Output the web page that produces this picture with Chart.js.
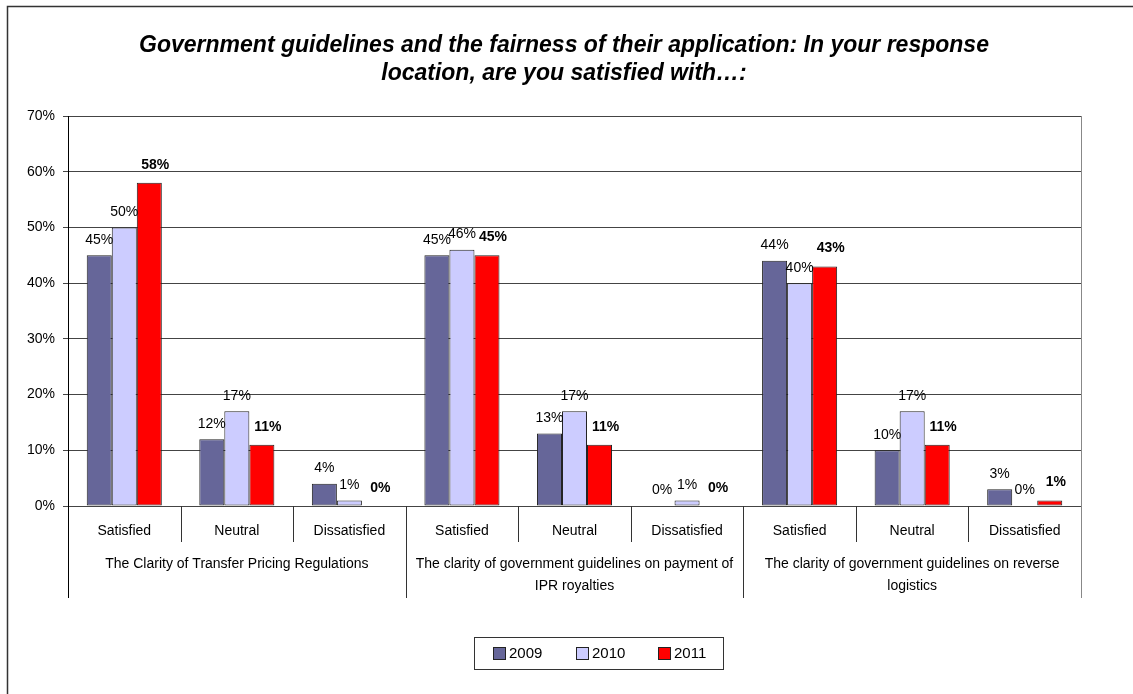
<!DOCTYPE html>
<html>
<head>
<meta charset="utf-8">
<script src="https://cdn.jsdelivr.net/npm/chart.js@4/dist/chart.umd.min.js"></script>
<style>
  body { margin: 0; background: #fff; }
  canvas { display: block; }
</style>
</head>
<body>
<canvas id="chart" width="1133" height="694"></canvas>
<script>
const titleLines = [
  'Government guidelines and the fairness of their application: In your response',
  'location, are you satisfied with\u2026:'
];
const categories = ['Satisfied', 'Neutral', 'Dissatisfied', 'Satisfied', 'Neutral', 'Dissatisfied', 'Satisfied', 'Neutral', 'Dissatisfied'];
const groupLabels = [
  ['The Clarity of Transfer Pricing Regulations'],
  ['The clarity of government guidelines on payment of', 'IPR royalties'],
  ['The clarity of government guidelines on reverse', 'logistics']
];
const seriesNames = ['2009', '2010', '2011'];
const values2009 = [45, 12, 4, 45, 13, 0, 44, 10, 3];
const values2010 = [50, 17, 1, 46, 17, 1, 40, 17, 0];
const values2011 = [58, 11, 0, 45, 11, 0, 43, 11, 1];
const yTicks = [0, 10, 20, 30, 40, 50, 60, 70];

const FONT = '"Liberation Sans", Arial, sans-serif';
const colors = ['#666699', '#CCCCFF', '#FF0000'];

// Frame, title, data labels, two-level category axis and boxed legend
const decorPlugin = {
  id: 'decor',
  afterDraw(chart) {
    const ctx = chart.ctx;
    const area = chart.chartArea;
    const x = chart.scales.x;
    ctx.save();

    // outer frame
    ctx.strokeStyle = '#333';
    ctx.lineWidth = 1.5;
    ctx.beginPath();
    ctx.moveTo(7.5, 694);
    ctx.lineTo(7.5, 6.5);
    ctx.lineTo(1133, 6.5);
    ctx.stroke();

    // title
    ctx.fillStyle = '#000';
    ctx.font = 'italic bold 23px ' + FONT;
    ctx.textAlign = 'center';
    ctx.textBaseline = 'alphabetic';
    titleLines.forEach((line, i) => ctx.fillText(line, 564, 52 + i * 28));

    // plot border (right side) and axis extension
    const axisBottom = 598;
    ctx.lineWidth = 1;
    ctx.strokeStyle = '#888';
    ctx.beginPath();
    ctx.moveTo(Math.round(area.right) + 0.5, area.top);
    ctx.lineTo(Math.round(area.right) + 0.5, axisBottom);
    ctx.stroke();
    ctx.strokeStyle = '#000';
    ctx.beginPath();
    ctx.moveTo(Math.round(area.left) + 0.5, area.top);
    ctx.lineTo(Math.round(area.left) + 0.5, axisBottom);
    ctx.stroke();

    // category separators
    ctx.strokeStyle = '#333';
    for (let i = 1; i < categories.length; i++) {
      const bx = Math.round((x.getPixelForValue(i - 1) + x.getPixelForValue(i)) / 2) + 0.5;
      const bottom = i % 3 === 0 ? axisBottom : 542;
      ctx.beginPath();
      ctx.moveTo(bx, area.bottom);
      ctx.lineTo(bx, bottom);
      ctx.stroke();
    }

    // group labels
    ctx.font = '14px ' + FONT;
    ctx.textBaseline = 'middle';
    ctx.fillStyle = '#000';
    groupLabels.forEach((lines, g) => {
      const cx = x.getPixelForValue(g * 3 + 1);
      lines.forEach((line, j) => ctx.fillText(line, cx, 564 + j * 22));
    });

    // data labels
    chart.data.datasets.forEach((ds, d) => {
      const meta = chart.getDatasetMeta(d);
      const bold = d === 2;
      ctx.font = (bold ? 'bold ' : '') + '14px ' + FONT;
      meta.data.forEach((bar, i) => {
        const dx = bold ? 6 : 0;
        const dy = bold ? 18 : 15.5;
        ctx.fillText(ds.data[i] + '%', bar.x + dx, bar.y - dy);
      });
    });

    // legend
    const lx = 474, ly = 637, lw = 249, lh = 32;
    ctx.strokeStyle = '#333';
    ctx.strokeRect(lx + 0.5, ly + 0.5, lw, lh);
    const itemX = [493, 576, 658];
    ctx.font = '15px ' + FONT;
    ctx.textAlign = 'left';
    chart.data.datasets.forEach((ds, d) => {
      ctx.fillStyle = ds.backgroundColor;
      ctx.fillRect(itemX[d] + 0.5, 647.5, 12, 12);
      ctx.strokeStyle = '#222';
      ctx.strokeRect(itemX[d] + 0.5, 647.5, 12, 12);
      ctx.fillStyle = '#000';
      ctx.fillText(ds.label, itemX[d] + 16, 654);
    });

    ctx.restore();
  }
};

new Chart(document.getElementById('chart'), {
  type: 'bar',
  data: {
    labels: categories,
    datasets: [values2009, values2010, values2011].map((vals, i) => ({
      label: seriesNames[i],
      data: vals,
      backgroundColor: colors[i],
      borderColor: '#222',
      borderWidth: 1,
      borderSkipped: false,
      categoryPercentage: 0.667,
      barPercentage: 1,
    })),
  },
  options: {
    responsive: false,
    animation: false,
    events: [],
    layout: { padding: { left: 8, right: 52, top: 116, bottom: 96 } },
    plugins: {
      legend: { display: false },
      title: { display: false },
      tooltip: { enabled: false },
    },
    scales: {
      x: {
        grid: { display: false, drawTicks: false },
        border: { display: true, color: '#444' },
        ticks: { color: '#000', font: { family: FONT, size: 14 }, padding: 17, maxRotation: 0, autoSkip: false },
        afterFit: (scale) => { scale.height = 92; },
      },
      y: {
        min: 0,
        max: 70,
        afterBuildTicks: (scale) => { scale.ticks = yTicks.map(v => ({ value: v })); },
        ticks: { color: '#000', font: { family: FONT, size: 14 }, padding: 8, callback: v => v + '%' },
        grid: { color: '#444', tickLength: 5 },
        border: { display: true, color: '#000' },
        afterFit: (scale) => { scale.width = 60; },
      },
    },
  },
  plugins: [decorPlugin],
});
</script>
</body>
</html>
